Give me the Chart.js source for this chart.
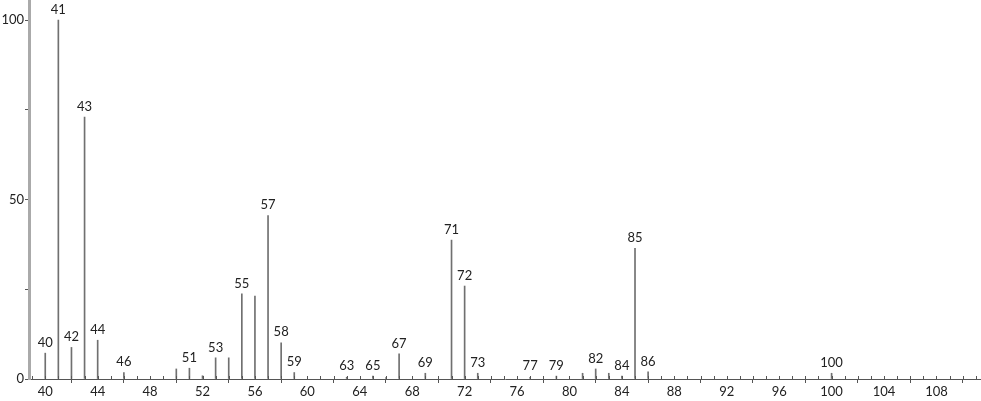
<!DOCTYPE html>
<html>
<head>
<meta charset="utf-8">
<script src="https://cdn.jsdelivr.net/npm/chart.js@4/dist/chart.umd.min.js"></script>
<style>
  html, body { margin: 0; padding: 0; background: #fff; }
  #wrap { width: 981px; height: 401px; }
</style>
</head>
<body>
<div id="wrap"><canvas id="spec"></canvas></div>
<script>
// m/z dos picos e intensidade relativa
const mz = [40, 41, 42, 43, 44, 46, 50, 51, 52, 53, 54, 55, 56, 57, 58, 59,
  63, 65, 66, 67, 69, 71, 72, 73, 77, 79, 81, 82, 83, 84, 85, 86, 100];
const intensity = [7.2, 100, 8.8, 73, 10.8, 1.8, 2.8, 3.0, 0.9, 5.9, 5.9, 23.7, 23.1, 45.5, 10.1, 1.8,
  0.5, 0.8, 0.4, 7.0, 1.6, 38.7, 25.9, 1.6, 0.5, 0.8, 1.6, 2.8, 1.6, 0.8, 36.4, 2.0, 1.6];
// picos que levam rótulo
const labeled = [40, 41, 42, 43, 44, 46, 51, 53, 55, 57, 58, 59, 63, 65, 67, 69,
  71, 72, 73, 77, 79, 82, 84, 85, 86, 100];
const yLabels = [0, 50, 100];

const fontFam = "Lato, 'DejaVu Sans', sans-serif";

//Plugin pra desenhar rótulos dos picos e ticks menores acima do eixo
const peakLabels = {
  id: "peakLabels",
  afterDatasetsDraw(chart) {
    const ctx = chart.ctx;
    const xs = chart.scales.x;
    const ys = chart.scales.y;
    ctx.save();
    // ticks menores (acima do eixo)
    ctx.strokeStyle = "#555";
    ctx.lineWidth = 1;
    const base = Math.round(ys.getPixelForValue(0));
    for (let v = Math.ceil(xs.min); v <= xs.max; v++) {
      const px = Math.round(xs.getPixelForValue(v)) + 0.5;
      ctx.beginPath();
      ctx.moveTo(px, base);
      ctx.lineTo(px, base - 3);
      ctx.stroke();
    }
    ctx.fillStyle = "#222";
    ctx.font = "13px " + fontFam;
    ctx.textAlign = "center";
    ctx.textBaseline = "bottom";
    mz.forEach((m, i) => {
      if (!labeled.includes(m)) return;
      const px = xs.getPixelForValue(m);
      const py = ys.getPixelForValue(intensity[i]);
      ctx.fillText(String(m), px, Math.min(py, base - 3) - 4);
    });
    ctx.restore();
  },
};

const ctx = document.getElementById("spec");
new Chart(ctx, {
  type: "bar",
  data: {
    datasets: [
      {
        data: mz.map((m, i) => ({ x: m, y: intensity[i] })),
        backgroundColor: "#707070",
        barThickness: 1,
        borderWidth: 0,
      },
    ],
  },
  options: {
    responsive: true,
    maintainAspectRatio: false,
    animation: false,
    layout: { padding: 0 },
    plugins: { legend: { display: false }, tooltip: { enabled: false } },
    scales: {
      x: {
        type: "linear",
        min: 38.76,
        max: 111.4,
        offset: false,
        afterBuildTicks: (s) => {
          s.ticks = s.ticks.filter((t) => Number.isInteger(t.value) && t.value % 4 === 0);
        },
        afterFit: (s) => {
          s.height = 22;
          s.paddingLeft = 0;
          s.paddingRight = 0;
        },
        ticks: {
          stepSize: 1,
          autoSkip: false,
          maxRotation: 0,
          padding: 1,
          color: "#222",
          font: { family: fontFam, size: 13 },
        },
        grid: {
          drawOnChartArea: false,
          drawTicks: true,
          tickLength: 4,
          color: "#555",
        },
        border: { color: "#555", width: 1 },
      },
      y: {
        min: 0,
        max: 105.6,
        afterBuildTicks: (s) => {
          s.ticks = s.ticks.filter((t) => t.value % 25 === 0);
        },
        afterFit: (s) => {
          s.width = 29;
          s.paddingTop = 0;
          s.paddingBottom = 0;
        },
        ticks: {
          stepSize: 25,
          padding: 1,
          color: "#222",
          font: { family: fontFam, size: 13 },
          callback: (v) => (yLabels.includes(v) ? String(v) : ""),
        },
        grid: {
          drawOnChartArea: false,
          drawTicks: true,
          tickLength: 4,
          color: "#555",
        },
        border: { color: "#aaa", width: 3 },
      },
    },
  },
  plugins: [peakLabels],
});
</script>
</body>
</html>
